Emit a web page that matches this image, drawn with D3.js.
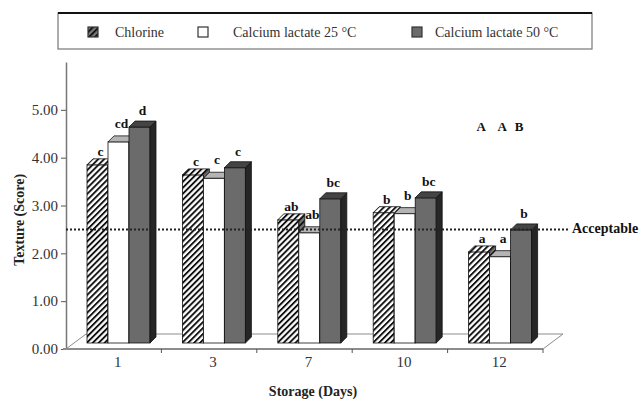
<!DOCTYPE html>
<html>
<head>
<meta charset="utf-8">
<script src="https://cdn.jsdelivr.net/npm/d3@7"></script>
<style>
    html, body { margin: 0; padding: 0; background: #fff; }
    svg { display: block; font-family: "Liberation Serif", "Times New Roman", serif; }
</style>
</head>
<body>
<svg id="chart" width="639" height="399"></svg>
<script>
var days = ['1', '3', '7', '10', '12'];
var series = ['Chlorine', 'Calcium lactate 25 \u00b0C', 'Calcium lactate 50 \u00b0C'];
var chlorine = [3.85, 3.64, 2.70, 2.85, 2.03];
var lactate25 = [4.33, 3.57, 2.43, 2.83, 1.93];
var lactate50 = [4.64, 3.79, 3.14, 3.16, 2.49];
var chlorineLetters = ['c', 'c', 'ab', 'b', 'a'];
var lactate25Letters = ['cd', 'c', 'ab', 'b', 'a'];
var lactate50Letters = ['d', 'c', 'bc', 'bc', 'b'];
var seriesLetters = ['A', 'A', 'B'];
var yTicks = [0, 1, 2, 3, 4, 5];
var acceptable = 2.5;

var values = [chlorine, lactate25, lactate50];
var letters = [chlorineLetters, lactate25Letters, lactate50Letters];

var svg = d3.select('#chart');

var x = d3.scaleBand().domain(days).range([66, 543]);
var xs = d3.scaleBand().domain(series).range([21, 84]);
var y = d3.scaleLinear().domain([0, 6]).range([349, 62]);

var depth = { dx: 6, dy: -6 };
var floorDepth = { dx: 20, dy: -15 };
var base = y(0) - 6;

// face styles per series: front, top, side
var faces = [
    { front: 'url(#hatch)', top: 'url(#hatch)', side: 'url(#hatchDark)' },
    { front: '#ffffff', top: '#b4b4b4', side: '#8a8a8a' },
    { front: '#6b6b6b', top: '#444444', side: '#262626' }
];
var letterOffset = [14, 19, 17];

var defs = svg.append('defs');
function hatch(id, bg) {
    var p = defs.append('pattern')
        .attr('id', id)
        .attr('patternUnits', 'userSpaceOnUse')
        .attr('width', 4.2)
        .attr('height', 4.2)
        .attr('patternTransform', 'rotate(45)');
    p.append('rect').attr('width', 4.2).attr('height', 4.2).attr('fill', bg);
    p.append('rect').attr('width', 1.9).attr('height', 4.2).attr('fill', '#111');
}
hatch('hatch', '#fff');
hatch('hatchDark', '#777');

// floor
var x0 = x.range()[0];
var x1 = x.range()[1];
svg.append('polygon')
    .attr('points', [
        [x0, y(0)],
        [x1, y(0)],
        [x1 + floorDepth.dx, y(0) + floorDepth.dy],
        [x0 + floorDepth.dx, y(0) + floorDepth.dy]
    ].join(' '))
    .attr('fill', '#fff')
    .attr('stroke', '#8c8c8c')
    .attr('stroke-width', 1);

// y axis
var yAxis = svg.append('g')
    .attr('transform', 'translate(' + x0 + ',0)')
    .call(d3.axisLeft(y).tickValues(yTicks).tickFormat(d3.format('.2f')).tickSize(5).tickSizeOuter(0));
yAxis.select('.domain').attr('stroke', '#777').attr('stroke-width', 1.5);
yAxis.selectAll('.tick line').attr('stroke', '#555');
yAxis.selectAll('.tick text')
    .attr('font-family', '"Liberation Serif", serif')
    .attr('font-size', 15)
    .attr('fill', '#333')
    .attr('x', -8);

// x axis line, boundary ticks, labels
svg.append('line')
    .attr('x1', x0 - 3).attr('x2', x1)
    .attr('y1', y(0)).attr('y2', y(0))
    .attr('stroke', '#8c8c8c')
    .attr('stroke-width', 2);
svg.selectAll('.xtick')
    .data(days)
    .enter().append('line')
    .attr('class', 'xtick')
    .attr('x1', function(d) { return x(d) + x.bandwidth(); })
    .attr('x2', function(d) { return x(d) + x.bandwidth(); })
    .attr('y1', y(0))
    .attr('y2', y(0) + 4)
    .attr('stroke', '#555');

var xAxis = svg.append('g')
    .attr('transform', 'translate(4,' + (y(0) + 4) + ')')
    .call(d3.axisBottom(x).tickSize(0));
xAxis.select('.domain').remove();
xAxis.selectAll('.tick text')
    .attr('font-family', '"Liberation Serif", serif')
    .attr('font-size', 15)
    .attr('fill', '#333');

// bars
var groups = svg.selectAll('.day')
    .data(days)
    .enter().append('g')
    .attr('class', 'day')
    .attr('transform', function(d) { return 'translate(' + x(d) + ',0)'; });

groups.each(function(day, di) {
    var g = d3.select(this);
    var w = xs.bandwidth();

    series.forEach(function(s, si) {
        var v = values[si][di];
        var bx = xs(s);
        var top = y(v);
        var f = faces[si];

        g.append('rect')
            .attr('x', bx).attr('y', top)
            .attr('width', w).attr('height', base - top)
            .attr('fill', f.front)
            .attr('stroke', '#111')
            .attr('stroke-width', 0.8);
        g.append('polygon')
            .attr('points', [
                [bx + w, top], [bx + w + depth.dx, top + depth.dy],
                [bx + w + depth.dx, base + depth.dy], [bx + w, base]
            ].join(' '))
            .attr('fill', f.side)
            .attr('stroke', '#111')
            .attr('stroke-width', 0.8);
        g.append('polygon')
            .attr('points', [
                [bx, top], [bx + depth.dx, top + depth.dy],
                [bx + w + depth.dx, top + depth.dy], [bx + w, top]
            ].join(' '))
            .attr('fill', f.top)
            .attr('stroke', '#111')
            .attr('stroke-width', 0.8);
    });
});

groups.each(function(day, di) {
    var g = d3.select(this);
    series.forEach(function(s, si) {
        g.append('text')
            .attr('x', xs(s) + xs.bandwidth() / 2 + depth.dx / 2)
            .attr('y', y(values[si][di]) - letterOffset[si] + 5)
            .attr('text-anchor', 'middle')
            .attr('font-size', 13.5)
            .attr('font-weight', 'bold')
            .attr('fill', '#111')
            .text(letters[si][di]);
    });
});

// series letters
var lastDay = days[days.length - 1];
svg.selectAll('.sletter')
    .data(seriesLetters)
    .enter().append('text')
    .attr('class', 'sletter')
    .attr('x', function(d, i) { return x(lastDay) + xs(series[i]) + xs.bandwidth() / 2 + 2 + (i === 2 ? -4 : 0); })
    .attr('y', 131)
    .attr('text-anchor', 'middle')
    .attr('font-size', 13)
    .attr('font-weight', 'bold')
    .attr('fill', '#111')
    .text(function(d) { return d; });

// acceptable line
svg.append('line')
    .attr('x1', x0).attr('x2', 570)
    .attr('y1', y(acceptable)).attr('y2', y(acceptable))
    .attr('stroke', '#222')
    .attr('stroke-width', 2)
    .attr('stroke-dasharray', '2,2');
svg.append('text')
    .attr('x', 572)
    .attr('y', y(acceptable) + 4)
    .attr('font-size', 14)
    .attr('font-weight', 'bold')
    .attr('fill', '#111')
    .text('Acceptable');

// axis titles
svg.append('text')
    .attr('transform', 'translate(24,' + y(2.7) + ') rotate(-90)')
    .attr('text-anchor', 'middle')
    .attr('font-size', 14)
    .attr('font-weight', 'bold')
    .attr('fill', '#222')
    .text('Texture (Score)');
svg.append('text')
    .attr('x', 313)
    .attr('y', 396)
    .attr('text-anchor', 'middle')
    .attr('font-size', 14)
    .attr('font-weight', 'bold')
    .attr('fill', '#222')
    .text('Storage (Days)');

// legend
var legend = svg.append('g');
legend.append('rect')
    .attr('x', 58).attr('y', 13)
    .attr('width', 534).attr('height', 36)
    .attr('fill', '#fff')
    .attr('stroke', '#777')
    .attr('stroke-width', 1.2);
legend.append('line')
    .attr('x1', 58).attr('x2', 592)
    .attr('y1', 13).attr('y2', 13)
    .attr('stroke', '#111')
    .attr('stroke-width', 2);

var legendX = [88, 198, 412];
var legendTextX = [115, 233, 435];
series.forEach(function(s, i) {
    legend.append('rect')
        .attr('x', legendX[i]).attr('y', 27)
        .attr('width', 10).attr('height', 10)
        .attr('fill', i === 0 ? 'url(#hatchDark)' : faces[i].front)
        .attr('stroke', '#333')
        .attr('stroke-width', 1.2);
    legend.append('text')
        .attr('x', legendTextX[i])
        .attr('y', 37)
        .attr('font-size', 14)
        .attr('fill', '#333')
        .text(s);
});
</script>
</body>
</html>
